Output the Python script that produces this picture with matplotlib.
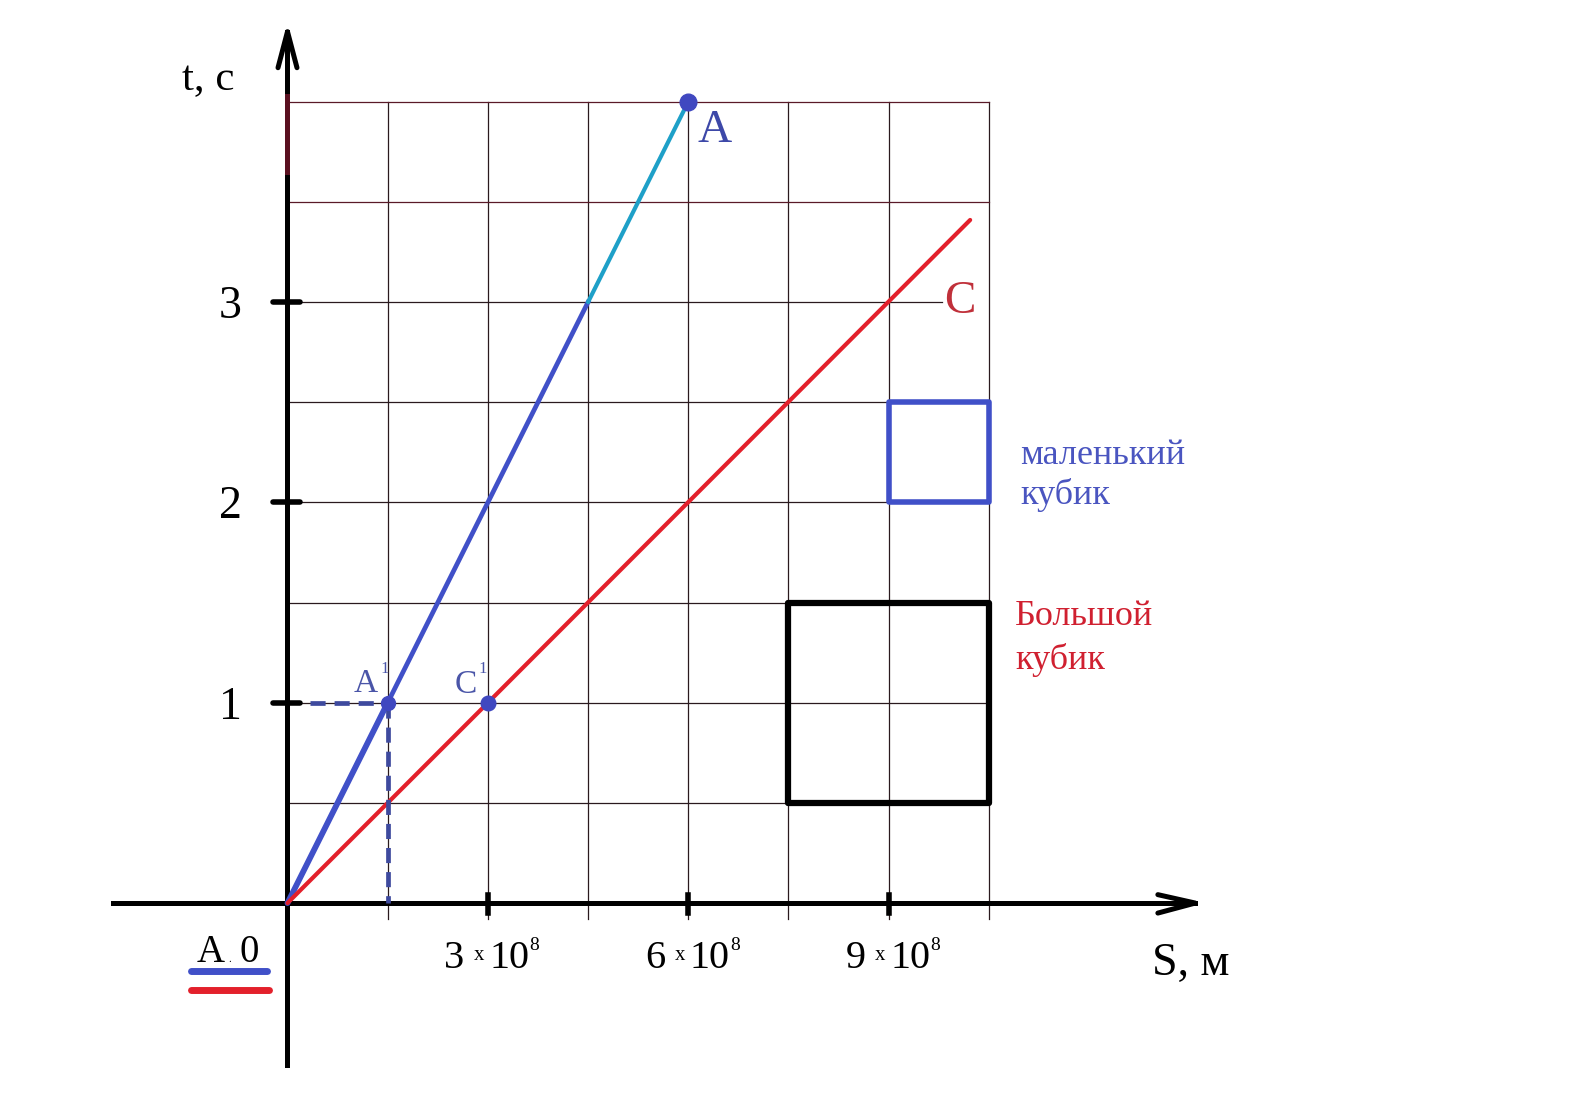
import matplotlib.pyplot as plt
from matplotlib.patches import Rectangle

plt.rcParams['font.family'] = ['Liberation Serif', 'DejaVu Serif']

# S in units of 1e8 m, t in seconds
grid_s = [1.5, 3.0, 4.5, 6.0, 7.5, 9.0, 10.5]
grid_t = [0.5, 1.0, 1.5, 2.0, 2.5, 3.0, 3.5, 4.0]
s_ticks = [3, 6, 9]
t_ticks = [1, 2, 3]

# blue line: 0 -> A1 -> A
blue_s = [0.0, 1.5, 4.5, 6.0]
blue_t = [0.0, 1.0, 3.0, 4.0]
# red line: 0 -> C1 -> end
red_s = [0.0, 3.0, 10.22]
red_t = [0.0, 1.0, 3.41]

point_A = (6.0, 4.0)
point_A1 = (1.5, 1.0)
point_C1 = (3.0, 1.0)

small_cube = (9.0, 2.0, 1.5, 0.5)   # s, t, width, height
big_cube = (7.5, 0.5, 3.0, 1.0)

BLUE = '#4050c8'
RED = '#e3202b'

fig = plt.figure(figsize=(15.74, 11.14), dpi=100)
ax = fig.add_axes([0, 0, 1, 1])
ax.set_xlim(-4.304, 19.26)
ax.set_ylim(-1.053, 4.508)
ax.axis('off')

# grid
for s in grid_s:
    ax.plot([s, s], [-0.08, 4.0], color='#2a1a1e', lw=0.9, zorder=1)
for t in grid_t:
    end = 9.8 if t == 3.0 else 10.5
    col = '#5a1a28' if t >= 3.5 else '#2a1a1e'
    ax.plot([0, end], [t, t], color=col, lw=0.9, zorder=1)

# axes with arrows
ax.plot([0, 0], [-0.81, 4.35], color='k', lw=3.6, zorder=3)
ax.plot([-0.142, 0, 0.142], [4.17, 4.35, 4.17], color='k', lw=3.6,
        solid_capstyle='round', solid_joinstyle='round', zorder=3)
ax.plot([0, 0], [3.65, 4.03], color='#5a1020', lw=3.6, zorder=3)
ax.plot([-2.61, 13.59], [0, 0], color='k', lw=3.6, zorder=3)
ax.plot([13.03, 13.59, 13.03], [0.042, 0, -0.05], color='k', lw=3.6,
        solid_capstyle='round', solid_joinstyle='round', zorder=3)

for s in s_ticks:
    ax.plot([s, s], [0.04, -0.05], color='k', lw=4, zorder=3)
for t in t_ticks:
    ax.plot([-0.217, 0.187], [t, t], color='k', lw=4,
            solid_capstyle='round', zorder=3)

# graph lines
ax.plot(blue_s[:2], blue_t[:2], color=BLUE, lw=4.2, solid_capstyle='round', zorder=4)
ax.plot(blue_s[1:3], blue_t[1:3], color=BLUE, lw=3.4, zorder=4)
ax.plot(blue_s[2:], blue_t[2:], color='#1ea0c8', lw=3.0, solid_capstyle='round', zorder=4)
ax.plot(red_s, red_t, color=RED, lw=3.0, solid_capstyle='round', zorder=4)

# dashed projections of A1
ax.plot([0.34, point_A1[0]], [point_A1[1], point_A1[1]], color='#3e4a9e', lw=3.4,
        ls=(0, (3.2, 1.9)), zorder=4)
ax.plot([point_A1[0], point_A1[0]], [point_A1[1], 0], color='#3e4a9e', lw=3.4,
        ls=(0, (3.2, 1.9)), zorder=4)

ax.plot(*point_A, 'o', color='#4048c0', ms=12, zorder=5)
ax.plot(*point_A1, 'o', color='#4048c0', ms=10, zorder=5)
ax.plot(*point_C1, 'o', color='#4048c0', ms=10.5, zorder=5)

# cubes
ax.add_patch(Rectangle(small_cube[:2], small_cube[2], small_cube[3], fill=False,
                       ec=BLUE, lw=4, joinstyle='round', zorder=4))
ax.add_patch(Rectangle(big_cube[:2], big_cube[2], big_cube[3], fill=False,
                       ec='k', lw=4.5, joinstyle='round', zorder=4))

# axis labels
ax.text(-1.58, 4.06, 't, c', fontsize=31, ha='left', va='baseline')
ax.text(12.94, -0.36, 'S, м', fontsize=33, ha='left', va='baseline')

for t in t_ticks:
    ax.text(-0.86, t - 0.08, str(t), fontsize=33, ha='center', va='baseline')

for s in s_ticks:
    ax.annotate(str(s), xy=(s, 0), xytext=(-24, -47), textcoords='offset points',
                ha='center', va='baseline', fontsize=29)
    ax.annotate('x', xy=(s, 0), xytext=(-6, -41), textcoords='offset points',
                ha='center', va='baseline', fontsize=15)
    ax.annotate('10', xy=(s, 0), xytext=(1, -47), textcoords='offset points',
                ha='left', va='baseline', fontsize=29)
    ax.annotate('8', xy=(s, 0), xytext=(30, -34), textcoords='offset points',
                ha='left', va='baseline', fontsize=14)

# point labels
ax.text(6.4, 3.80, 'A', fontsize=34, color='#3d48a8', ha='center', va='baseline')
ax.text(10.07, 2.945, 'C', fontsize=34, color='#c0303a', ha='center', va='baseline')
ax.text(1.17, 1.053, 'A', fontsize=24, color='#4a55a8', ha='center', va='baseline')
ax.text(1.39, 1.15, '1', fontsize=12, color='#4a55a8', ha='left', va='baseline')
ax.text(2.67, 1.048, 'C', fontsize=24, color='#4a55a8', ha='center', va='baseline')
ax.text(2.86, 1.15, '1', fontsize=12, color='#4a55a8', ha='left', va='baseline')

# legend-like mark at origin
ax.text(-1.15, -0.295, 'A', fontsize=28, ha='center', va='baseline')
ax.text(-0.87, -0.295, '.', fontsize=8, ha='center', va='baseline')
ax.text(-0.58, -0.295, '0', fontsize=28, ha='center', va='baseline')
ax.plot([-1.45, -0.30], [-0.34, -0.34], color=BLUE, lw=5, solid_capstyle='round')
ax.plot([-1.45, -0.28], [-0.435, -0.435], color=RED, lw=5, solid_capstyle='round')

# cube captions
ax.text(10.97, 2.19, 'маленький', fontsize=26, color='#4a55c0', ha='left', va='baseline')
ax.text(10.97, 1.99, 'кубик', fontsize=26, color='#4a55c0', ha='left', va='baseline')
ax.text(10.89, 1.39, 'Большой', fontsize=26, color='#d02030', ha='left', va='baseline')
ax.text(10.89, 1.17, 'кубик', fontsize=26, color='#d02030', ha='left', va='baseline')

fig.savefig('out.png', dpi=100)
